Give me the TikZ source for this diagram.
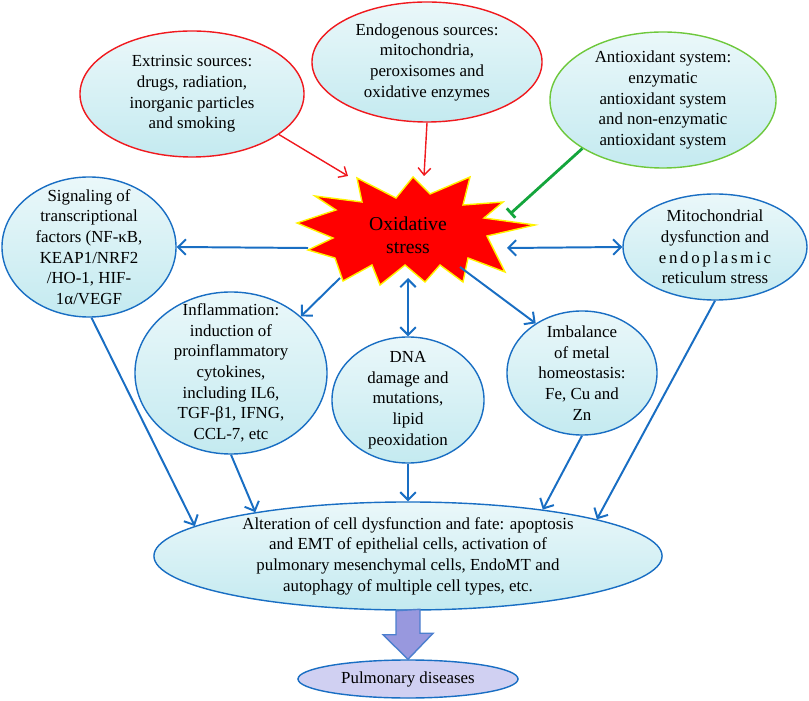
\documentclass[tikz,border=0pt]{standalone}
\usepackage{fontspec}
\setmainfont{Liberation Serif}
\usetikzlibrary{shapes, arrows.meta, positioning}
\definecolor{cellcyan}{RGB}{196,234,240}
\definecolor{arrowblue}{RGB}{25,110,195}
\definecolor{srcred}{RGB}{240,25,30}
\definecolor{antigreen}{RGB}{110,200,60}
\definecolor{blockgreen}{RGB}{20,165,60}
\definecolor{diseasefill}{RGB}{208,208,242}
\definecolor{bigfill}{RGB}{152,152,222}
\tikzset{
  bubble/.style={ellipse, draw=arrowblue, line width=1pt, top color=cellcyan!35,
    bottom color=cellcyan, align=center, inner sep=-12pt,
    font=\fontsize{12}{14.7}\selectfont},
  srcarrow/.style={draw=srcred, line width=1pt, -{Straight Barb[length=5pt,width=9pt]}},
  effarrow/.style={draw=arrowblue, line width=1.4pt},
  blockline/.style={draw=blockgreen, line width=2pt, -{Bar[width=9pt]}},
}

\begin{document}
\begin{tikzpicture}[x=0.025cm, y=-0.025cm, >={Straight Barb[length=5.5pt,width=11pt]}]
	\useasboundingbox (0,0) rectangle (809,701);
	% sources
	\node[bubble, draw=srcred, minimum width=5.6cm, minimum height=3.15cm] (ext) at (192,94)
		{Extrinsic sources:\\drugs, radiation,\\inorganic particles\\and smoking};
	\node[bubble, draw=srcred, minimum width=5.75cm, minimum height=3cm] (endo) at (427,62)
		{Endogenous sources:\\mitochondria,\\peroxisomes and\\oxidative enzymes};
	\node[bubble, draw=antigreen, minimum width=5.65cm, minimum height=3.4cm] (anti) at (663,100)
		{Antioxidant system:\\enzymatic\\antioxidant system\\and non-enzymatic\\antioxidant system};
	% oxidative stress burst
	\filldraw[fill=red, draw=yellow, line width=1pt]
		(413,177) -- (430,194) -- (470,177) -- (463,205) -- (503,202) -- (484,218)
		-- (535,225) -- (487,236) -- (505,272) -- (468,258) -- (463,282) -- (440,265)
		-- (425,282) -- (405,265) -- (380,285) -- (372,265) -- (343,281) -- (335,258)
		-- (308,250) -- (333,238) -- (297,223) -- (336,210) -- (315,196) -- (362,202)
		-- (357,178) -- (396,198) -- cycle;
	\node[align=center, font=\fontsize{14}{16.4}\selectfont] (ox) at (408,235) {Oxidative\\stress};
	\coordinate (ox-ext) at (348,176);
	\coordinate (ox-endo) at (424,176);
	\coordinate (ox-anti) at (510,214);
	\coordinate (ox-sig) at (308,248);
	\coordinate (ox-mito) at (507,248);
	\coordinate (ox-infl) at (340,278);
	\coordinate (ox-dna) at (408,278);
	\coordinate (ox-metal) at (460,267);
	% consequences
	\node[bubble, minimum width=4.35cm, minimum height=3.5cm] (sig) at (89,247)
		{Signaling of\\transcriptional\\factors (NF-κB,\\KEAP1/NRF2\\/HO-1, HIF-\\1α/VEGF};
	\node[bubble, minimum width=4.6cm, minimum height=2.65cm] (mito) at (715,247)
		{Mitochondrial\\dysfunction and\\{\addfontfeature{LetterSpace=16}endoplasmic}\\reticulum stress};
	\node[bubble, minimum width=4.8cm, minimum height=4.05cm] (infl) at (231,373)
		{Inflammation:\\induction of\\proinflammatory\\cytokines,\\including IL6,\\TGF-β1, IFNG,\\CCL-7, etc};
	\node[bubble, minimum width=3.8cm, minimum height=3.15cm] (dna) at (408,400)
		{DNA\\damage and\\mutations,\\lipid\\peoxidation};
	\node[bubble, minimum width=3.75cm, minimum height=3.1cm] (metal) at (582,373)
		{Imbalance\\of metal\\homeostasis:\\Fe, Cu and\\Zn};
	\node[bubble, minimum width=12.7cm, minimum height=2.7cm] (alt) at (408,556)
		{Alteration of cell dysfunction and fate: apoptosis\\and EMT of epithelial cells, activation of\\pulmonary mesenchymal cells, EndoMT and\\autophagy of multiple cell types, etc.};
	% big arrow
	\node[bubble, fill=diseasefill, top color=diseasefill, bottom color=diseasefill,
		minimum width=5.5cm, minimum height=0.95cm] (pulm) at (408,679) {Pulmonary diseases};
	\filldraw[fill=bigfill, draw=arrowblue!60!bigfill, line width=1pt]
		(alt.south) ++(-12,0) -- ++(0,24) -- ++(-13,0) -- (pulm.north)
		-- ++(25,-26) -- ++(-13,0) -- ++(0,-24) -- cycle;
	% source arrows
	\draw[srcarrow] (ext.-25) -- (ox-ext);
	\draw[srcarrow] (endo.south) -- (ox-endo);
	\draw[blockline] (anti.211) -- (ox-anti);
	% effect arrows
	\draw[effarrow, ->] (ox-sig) -- (sig.east);
	\draw[effarrow, <->] (ox-mito) -- (mito.west);
	\draw[effarrow, ->] (ox-infl) -- (infl.39);
	\draw[effarrow, <->] (ox-dna) -- (dna.north);
	\draw[effarrow, ->] (ox-metal) -- (metal.133);
	% towards cell fate
	\draw[effarrow, ->] (sig.-88) -- (alt.172);
	\draw[effarrow, ->] (infl.south) -- (alt.164);
	\draw[effarrow, ->] (dna.south) -- (alt.north);
	\draw[effarrow, ->] (metal.south) -- (alt.19);
	\draw[effarrow, ->] (mito.south) -- (alt.11);
\end{tikzpicture}
\end{document}
